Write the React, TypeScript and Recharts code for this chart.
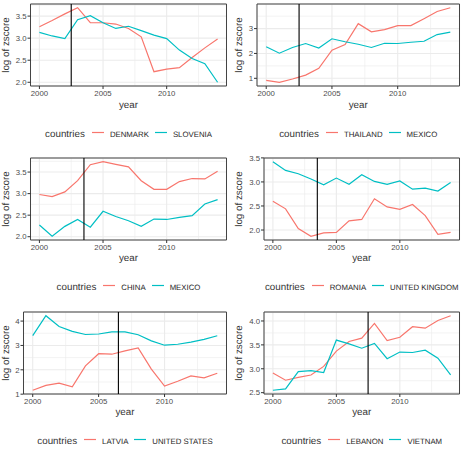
import React from 'react';
import {
  LineChart,
  Line,
  XAxis,
  YAxis,
  CartesianGrid,
  ReferenceLine,
  ReferenceArea,
} from 'recharts';

// ---- data ----------------------------------------------------------------
const YEARS = [2000, 2001, 2002, 2003, 2004, 2005, 2006, 2007, 2008, 2009, 2010, 2011, 2012, 2013, 2014];
const YEAR_TICKS = [2000, 2005, 2010];

const DENMARK = [3.26, 3.40, 3.55, 3.69, 3.35, 3.35, 3.32, 3.22, 3.03, 2.24, 2.30, 2.33, 2.56, 2.78, 2.98];
const SLOVENIA = [3.13, 3.05, 2.99, 3.42, 3.51, 3.35, 3.22, 3.27, 3.17, 3.07, 2.99, 2.73, 2.54, 2.42, 2.00];

const THAILAND = [0.92, 0.84, 0.97, 1.13, 1.40, 2.13, 2.36, 3.20, 2.87, 2.96, 3.12, 3.12, 3.40, 3.69, 3.84];
const MEXICO = [2.27, 2.01, 2.24, 2.40, 2.22, 2.59, 2.47, 2.37, 2.24, 2.41, 2.40, 2.45, 2.49, 2.76, 2.86];

const CHINA = [2.98, 2.93, 3.04, 3.30, 3.67, 3.74, 3.68, 3.62, 3.30, 3.10, 3.10, 3.28, 3.35, 3.34, 3.52];

const ROMANIA = [2.60, 2.44, 2.03, 1.87, 1.94, 1.95, 2.19, 2.22, 2.65, 2.48, 2.43, 2.53, 2.30, 1.91, 1.95];
const UNITED_KINGDOM = [3.42, 3.24, 3.17, 3.06, 2.94, 3.08, 2.95, 3.15, 3.01, 2.95, 3.02, 2.85, 2.87, 2.81, 2.99];

const LATVIA = [1.16, 1.36, 1.45, 1.30, 2.16, 2.66, 2.64, 2.78, 2.90, 2.03, 1.33, 1.53, 1.75, 1.67, 1.86];
const UNITED_STATES = [3.40, 4.22, 3.78, 3.58, 3.45, 3.47, 3.56, 3.56, 3.44, 3.19, 3.01, 3.05, 3.14, 3.25, 3.40];

const LEBANON = [2.91, 2.76, 2.82, 2.87, 3.05, 3.37, 3.57, 3.64, 3.95, 3.59, 3.66, 3.88, 3.85, 4.01, 4.11];
const VIETNAM = [2.55, 2.58, 2.94, 2.96, 2.92, 3.60, 3.52, 3.43, 3.53, 3.21, 3.35, 3.34, 3.39, 3.22, 2.87];

// break year marked by the vertical rule in each panel
const BREAKS = [2002.5, 2002.5, 2003.5, 2003.5, 2006.5, 2007.5];

const X_TITLE = 'year';
const Y_TITLE = 'log of zscore';
const LEGEND_TITLE = 'countries';

// ---- styling ---------------------------------------------------------------
const FONT = '"Liberation Sans", Arial, Helvetica, sans-serif';
const RED = '#F8766D';
const TEAL = '#00BFC4';
const GRID = '#EBEBEB';
const TITLE_COLOR = '#333333';

const CELL_W = 233;
const CELL_H = 154;
const PLOT_TOP = 4;
const PLOT_H = 82;
const PLOT_RIGHT_PAD = 6.5;

type PanelSpec = {
  x: number;
  y: number;
  names: [string, string];
  a: number[];
  b: number[];
  yTicks: number[];
  decimals: number;
  axisWidth: number;
  mark: number;
};

const PANELS: PanelSpec[] = [
  { x: 0, y: 0, names: ['DENMARK', 'SLOVENIA'], a: DENMARK, b: SLOVENIA, yTicks: [2.0, 2.5, 3.0, 3.5], decimals: 1, axisWidth: 30.5, mark: BREAKS[0] },
  { x: 233, y: 0, names: ['THAILAND', 'MEXICO'], a: THAILAND, b: MEXICO, yTicks: [1, 2, 3], decimals: 0, axisWidth: 24, mark: BREAKS[1] },
  { x: 0, y: 153.5, names: ['CHINA', 'MEXICO'], a: CHINA, b: MEXICO, yTicks: [2.0, 2.5, 3.0, 3.5], decimals: 1, axisWidth: 30.5, mark: BREAKS[2] },
  { x: 233, y: 153.5, names: ['ROMANIA', 'UNITED KINGDOM'], a: ROMANIA, b: UNITED_KINGDOM, yTicks: [2.0, 2.5, 3.0, 3.5], decimals: 1, axisWidth: 31, mark: BREAKS[3] },
  { x: 0, y: 307.5, names: ['LATVIA', 'UNITED STATES'], a: LATVIA, b: UNITED_STATES, yTicks: [1, 2, 3, 4], decimals: 0, axisWidth: 23.5, mark: BREAKS[4] },
  { x: 233, y: 307.5, names: ['LEBANON', 'VIETNAM'], a: LEBANON, b: VIETNAM, yTicks: [2.5, 3.0, 3.5, 4.0], decimals: 1, axisWidth: 31, mark: BREAKS[5] },
];

// ggplot-style continuous expansion: 5% of the range on each side
const expand = (lo: number, hi: number): [number, number] => {
  const pad = (hi - lo) * 0.05;
  return [lo - pad, hi + pad];
};

// minor breaks sit halfway between major breaks
const minorBreaks = (major: number[], domain: [number, number]) => {
  const step = major[1] - major[0];
  const out = [major[0] - step / 2, ...major.map((t) => t + step / 2)];
  return out.filter((v) => v >= domain[0] && v <= domain[1]);
};

const X_DOMAIN = expand(YEARS[0], YEARS[YEARS.length - 1]);
const X_MINOR = minorBreaks(YEAR_TICKS, X_DOMAIN);

const titleStyle: React.CSSProperties = {
  position: 'absolute',
  width: 100,
  height: 12,
  lineHeight: '12px',
  fontSize: 9.8,
  fontFamily: FONT,
  color: TITLE_COLOR,
  textAlign: 'center',
  whiteSpace: 'nowrap',
  textRendering: 'geometricPrecision',
};

// one legend key: a short horizontal stroke in the series colour
const LegendKey = ({ color, ml }: { color: string; ml: number }) => (
  <svg
    width={12}
    height={6}
    style={{ display: 'inline-block', verticalAlign: '1px', marginLeft: ml, marginRight: 6 }}
  >
    <line x1={0} x2={12} y1={2.5} y2={2.5} stroke={color} strokeWidth={1.2} />
  </svg>
);

const LegendRow = ({ names, left, width, top }: { names: [string, string]; left: number; width: number; top: number }) => {
  const label: React.CSSProperties = { fontSize: 7.8, color: '#262626' };
  return (
    <div
      style={{
        position: 'absolute',
        left,
        top,
        width,
        textAlign: 'center',
        whiteSpace: 'nowrap',
        fontSize: 9.8,
        lineHeight: '12px',
        fontFamily: FONT,
        color: TITLE_COLOR,
        textRendering: 'geometricPrecision',
      }}
    >
      <span>{LEGEND_TITLE}</span>
      <LegendKey color={RED} ml={7} />
      <span style={label}>{names[0]}</span>
      <LegendKey color={TEAL} ml={6} />
      <span style={label}>{names[1]}</span>
    </div>
  );
};

const Panel = ({ spec }: { spec: PanelSpec }) => {
  const rows = YEARS.map((year, i) => ({ year, a: spec.a[i], b: spec.b[i] }));
  const all = [...spec.a, ...spec.b];
  const yDomain = expand(Math.min(...all), Math.max(...all));
  const yMinor = minorBreaks(spec.yTicks, yDomain);
  const plotLeft = spec.x + spec.axisWidth;
  const plotRight = spec.x + CELL_W - PLOT_RIGHT_PAD;
  const plotTop = spec.y + PLOT_TOP;
  const plotBottom = plotTop + PLOT_H;
  const fmt = (v: number) => v.toFixed(spec.decimals);

  return (
    <>
      <div style={{ position: 'absolute', left: spec.x, top: spec.y, width: CELL_W, height: CELL_H }}>
        <LineChart
          width={CELL_W}
          height={CELL_H}
          data={rows}
          margin={{ top: PLOT_TOP, right: PLOT_RIGHT_PAD, bottom: 0, left: 0 }}
          style={{ fontFamily: FONT }}
        >
          <XAxis xAxisId="minor" dataKey="year" type="number" domain={X_DOMAIN} ticks={X_MINOR} allowDataOverflow hide />
          <YAxis yAxisId="minor" type="number" domain={yDomain} ticks={yMinor} allowDataOverflow hide />
          <CartesianGrid xAxisId="minor" yAxisId="minor" stroke={GRID} strokeWidth={0.6} />
          <CartesianGrid stroke={GRID} strokeWidth={1.1} />
          <XAxis
            dataKey="year"
            type="number"
            domain={X_DOMAIN}
            ticks={YEAR_TICKS}
            interval={0}
            allowDataOverflow
            height={CELL_H - PLOT_TOP - PLOT_H}
            axisLine={false}
            tickSize={3}
            tickMargin={1}
            tickLine={{ stroke: '#333333' }}
            tick={{ fontSize: 7.8, fill: '#4D4D4D', fontFamily: FONT }}
          />
          <YAxis
            type="number"
            domain={yDomain}
            ticks={spec.yTicks}
            interval={0}
            allowDataOverflow
            width={spec.axisWidth}
            axisLine={false}
            tickSize={3}
            tickMargin={1}
            tickLine={{ stroke: '#333333' }}
            tick={{ fontSize: 7.8, fill: '#4D4D4D', fontFamily: FONT }}
            tickFormatter={fmt}
          />
          <Line dataKey="a" name={spec.names[0]} stroke={RED} strokeWidth={1.2} dot={false} isAnimationActive={false} />
          <Line dataKey="b" name={spec.names[1]} stroke={TEAL} strokeWidth={1.2} dot={false} isAnimationActive={false} />
          <ReferenceLine x={spec.mark} stroke="#000" strokeWidth={1.1} />
          <ReferenceArea
            x1={X_DOMAIN[0]}
            x2={X_DOMAIN[1]}
            y1={yDomain[0]}
            y2={yDomain[1]}
            fill="none"
            fillOpacity={0}
            stroke="#444444"
            strokeWidth={1}
          />
        </LineChart>
      </div>
      {/* x-axis title, centred under the plot */}
      <div style={{ ...titleStyle, left: (plotLeft + plotRight) / 2 - 50, top: plotBottom + 23 - 9.4 }}>{X_TITLE}</div>
      {/* y-axis title, rotated */}
      <div
        style={{
          ...titleStyle,
          left: spec.x + 7.1 - 50,
          top: plotTop + PLOT_H / 2 - 6,
          transform: 'rotate(-90deg)',
          transformOrigin: '50% 50%',
        }}
      >
        {Y_TITLE}
      </div>
      <LegendRow
        names={spec.names}
        left={plotLeft}
        width={plotRight - plotLeft}
        top={Math.round(plotBottom + 52 - 9.4)}
      />
    </>
  );
};

export default function App() {
  return (
    <div
      style={{
        position: 'absolute',
        left: 0,
        top: 0,
        width: 466,
        height: 461,
        background: '#fff',
        overflow: 'hidden',
        fontFamily: FONT,
      }}
    >
      {PANELS.map((p, i) => (
        <Panel key={i} spec={p} />
      ))}
    </div>
  );
}
